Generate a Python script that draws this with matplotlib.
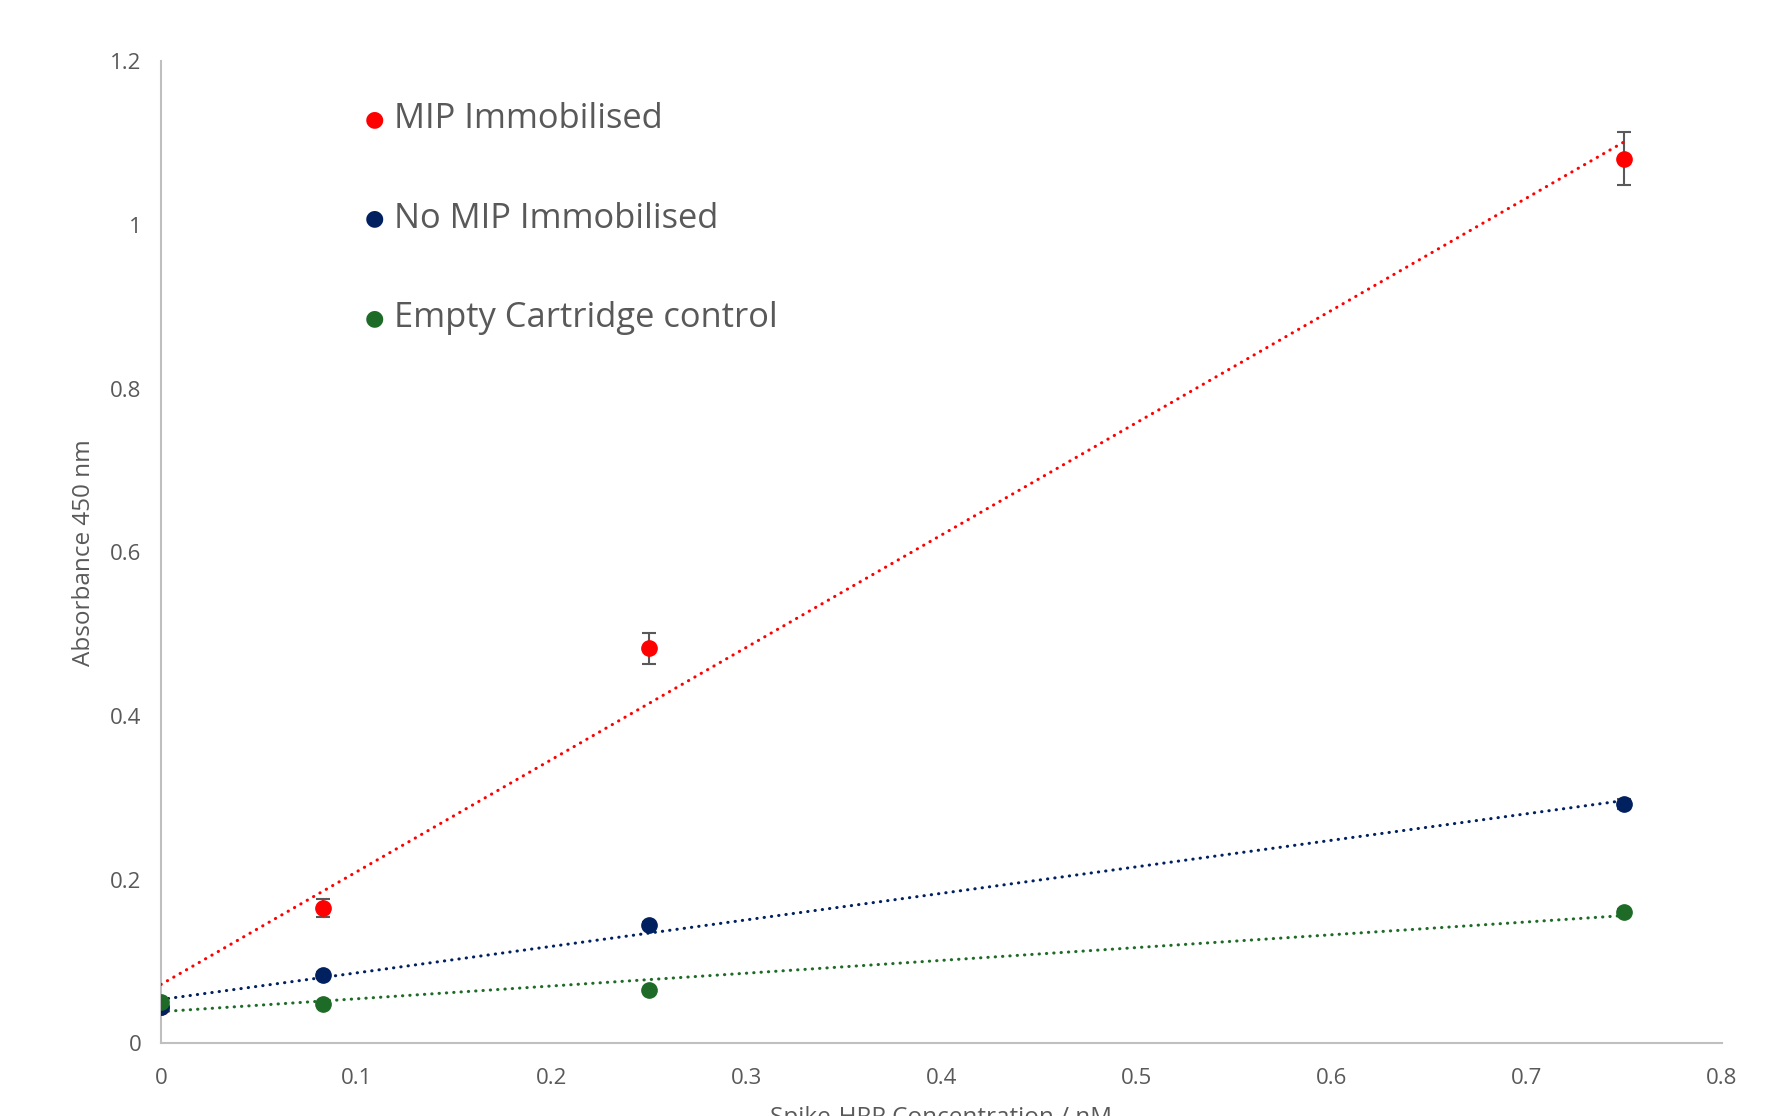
import numpy as np
import matplotlib
matplotlib.use('Agg')
import matplotlib.pyplot as plt

plt.rcParams['font.family'] = ['Open Sans', 'DejaVu Sans']

conc = [0, 0.0833, 0.25, 0.75]

mip = [0.045, 0.166, 0.483, 1.081]
mip_err = [0.004, 0.011, 0.019, 0.032]
no_mip = [0.044, 0.084, 0.145, 0.293]
no_mip_err = [0.003, 0.003, 0.003, 0.006]
empty = [0.051, 0.048, 0.065, 0.161]
empty_err = [0.002, 0.002, 0.002, 0.003]

labels = ['MIP Immobilised', 'No MIP Immobilised', 'Empty Cartridge control']
colors = ['#FF0000', '#002060', '#1E6B27']

fig = plt.figure(figsize=(17.77, 11.16), dpi=100)
ax = fig.add_axes([0.0906, 0.065, 0.8782, 0.8802])

x = np.array(conc)
for y, err, c in zip([mip, no_mip, empty], [mip_err, no_mip_err, empty_err], colors):
    y = np.array(y)
    ax.errorbar(x, y, yerr=err, fmt='none', ecolor='#595959', elinewidth=1.5,
                capsize=5, capthick=1.5, zorder=2)
    k, b = np.polyfit(x, y, 1)
    xl = np.array([0, x.max()])
    ax.plot(xl, k * xl + b, color=c, lw=2.2, ls=(0, (0.1, 2.3)),
            dash_capstyle='round', zorder=3)
    ax.plot(x, y, 'o', color=c, ms=11, mec=c, zorder=4)

ax.set_xlim(0, 0.8)
ax.set_ylim(0, 1.2)
ax.set_xticks(np.arange(0, 0.81, 0.1))
ax.set_xticklabels(['0', '0.1', '0.2', '0.3', '0.4', '0.5', '0.6', '0.7', '0.8'])
ax.set_yticks(np.arange(0, 1.21, 0.2))
ax.set_yticklabels(['0', '0.2', '0.4', '0.6', '0.8', '1', '1.2'])
ax.tick_params(length=0, labelsize=16, labelcolor='#595959')
ax.tick_params(axis='x', pad=18)
ax.tick_params(axis='y', pad=14)
for s in ['top', 'right']:
    ax.spines[s].set_visible(False)
for s in ['left', 'bottom']:
    ax.spines[s].set_color('#BFBFBF')
    ax.spines[s].set_linewidth(1.5)

ax.set_xlabel('Spike-HRP Concentration / nM', fontsize=17.5, color='#595959', labelpad=12)
ax.set_ylabel('Absorbance 450 nm', fontsize=17.5, color='#595959', labelpad=10)

# legend drawn as text in figure pixels
for i, (lab, c) in enumerate(zip(labels, colors)):
    ypix = 1116 - (119 + 99.5 * i)
    fig.text(374 / 1777, ypix / 1116, '\u25cf', color=c, fontsize=16,
             ha='center', va='center', family='DejaVu Sans')
    fig.text(394 / 1777, ypix / 1116, lab, color='#595959', fontsize=24.8,
             ha='left', va='center')

fig.savefig('out.png', dpi=100)
